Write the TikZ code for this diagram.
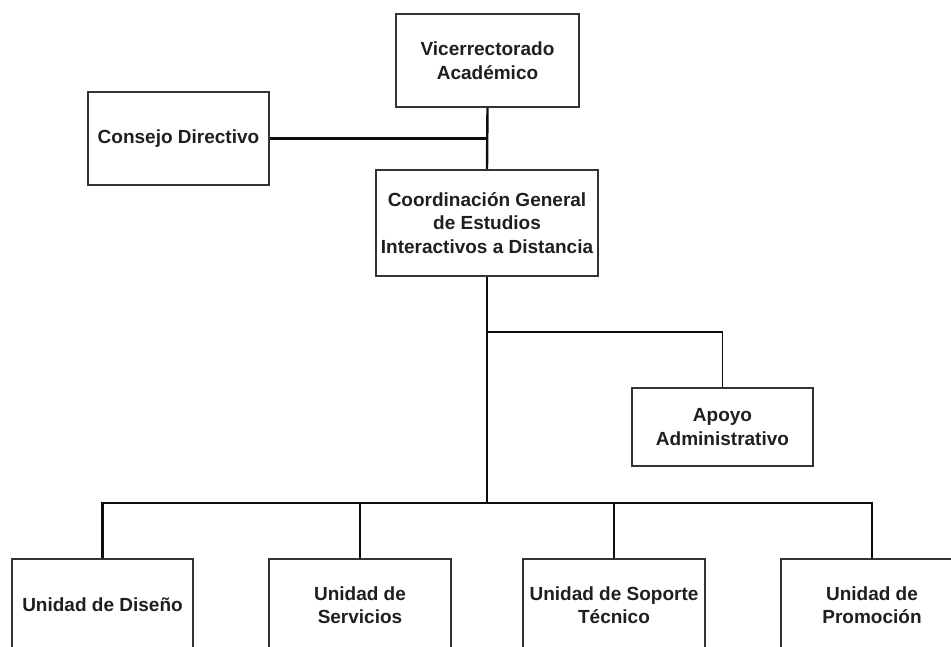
\documentclass[tikz,border=0pt]{standalone}
\usepackage{fontspec}
\setmainfont{Liberation Sans}
\usepackage{xcolor}
\definecolor{boxline}{gray}{0.2}
\definecolor{linkline}{gray}{0.05}
\definecolor{boxtext}{gray}{0.12}

\begin{document}
\begin{tikzpicture}[x=1pt, y=-1pt,
		unitbox/.style={draw=boxline, line width=1.6pt, rectangle, inner sep=0pt, align=center,
			text=boxtext, font=\fontsize{19}{23.5}\selectfont\bfseries},
		link/.style={draw=linkline, line width=2.4pt}]
			% Page
			\useasboundingbox (0,0) rectangle (951,647);
			\clip (0,0) rectangle (951,647);
			
			% Top boxes
			\node[unitbox, minimum width=183pt, minimum height=93pt] (vice) at (487.5,60.5) {Vicerrectorado\\Académico};
			\node[unitbox, minimum width=181pt, minimum height=93pt] (consejo) at (178.5,138.5) {Consejo Directivo};
			\node[unitbox, minimum width=222pt, minimum height=106pt] (coord) at (487,223) {Coordinación General\\de Estudios\\Interactivos a Distancia};
			\node[unitbox, minimum width=181pt, minimum height=78pt] (apoyo) at (722.5,427) {Apoyo\\Administrativo};
			
			% Bottom boxes
			\node[unitbox, minimum width=181pt, minimum height=92pt] (diseno) at (102.5,605) {Unidad de Diseño};
			\node[unitbox, minimum width=182pt, minimum height=92pt] (servicios) at (360,605) {Unidad de\\Servicios};
			\node[unitbox, minimum width=182pt, minimum height=92pt] (soporte) at (614,605) {Unidad de Soporte\\Técnico};
			\node[unitbox, minimum width=182pt, minimum height=92pt] (promocion) at (872,605) {Unidad de\\Promoción};
			
			% Junctions
			\coordinate (rama) at (487,332);
			\coordinate (bus) at (487,503);
			
			% Connectors
			\draw[link] (vice.south) -- (coord.north);
			\draw[link] (consejo.east) -- (consejo.east -| vice.south);
			\draw[link] (coord.south) -- (bus);
			\draw[link, line width=1.8pt] (rama) -| (apoyo.north);
			\draw[link] (diseno.north) |- (bus) -| (promocion.north);
			\foreach \u in {servicios, soporte}
				\draw[link] (\u.north |- bus) -- (\u.north);
		\end{tikzpicture}
\end{document}
